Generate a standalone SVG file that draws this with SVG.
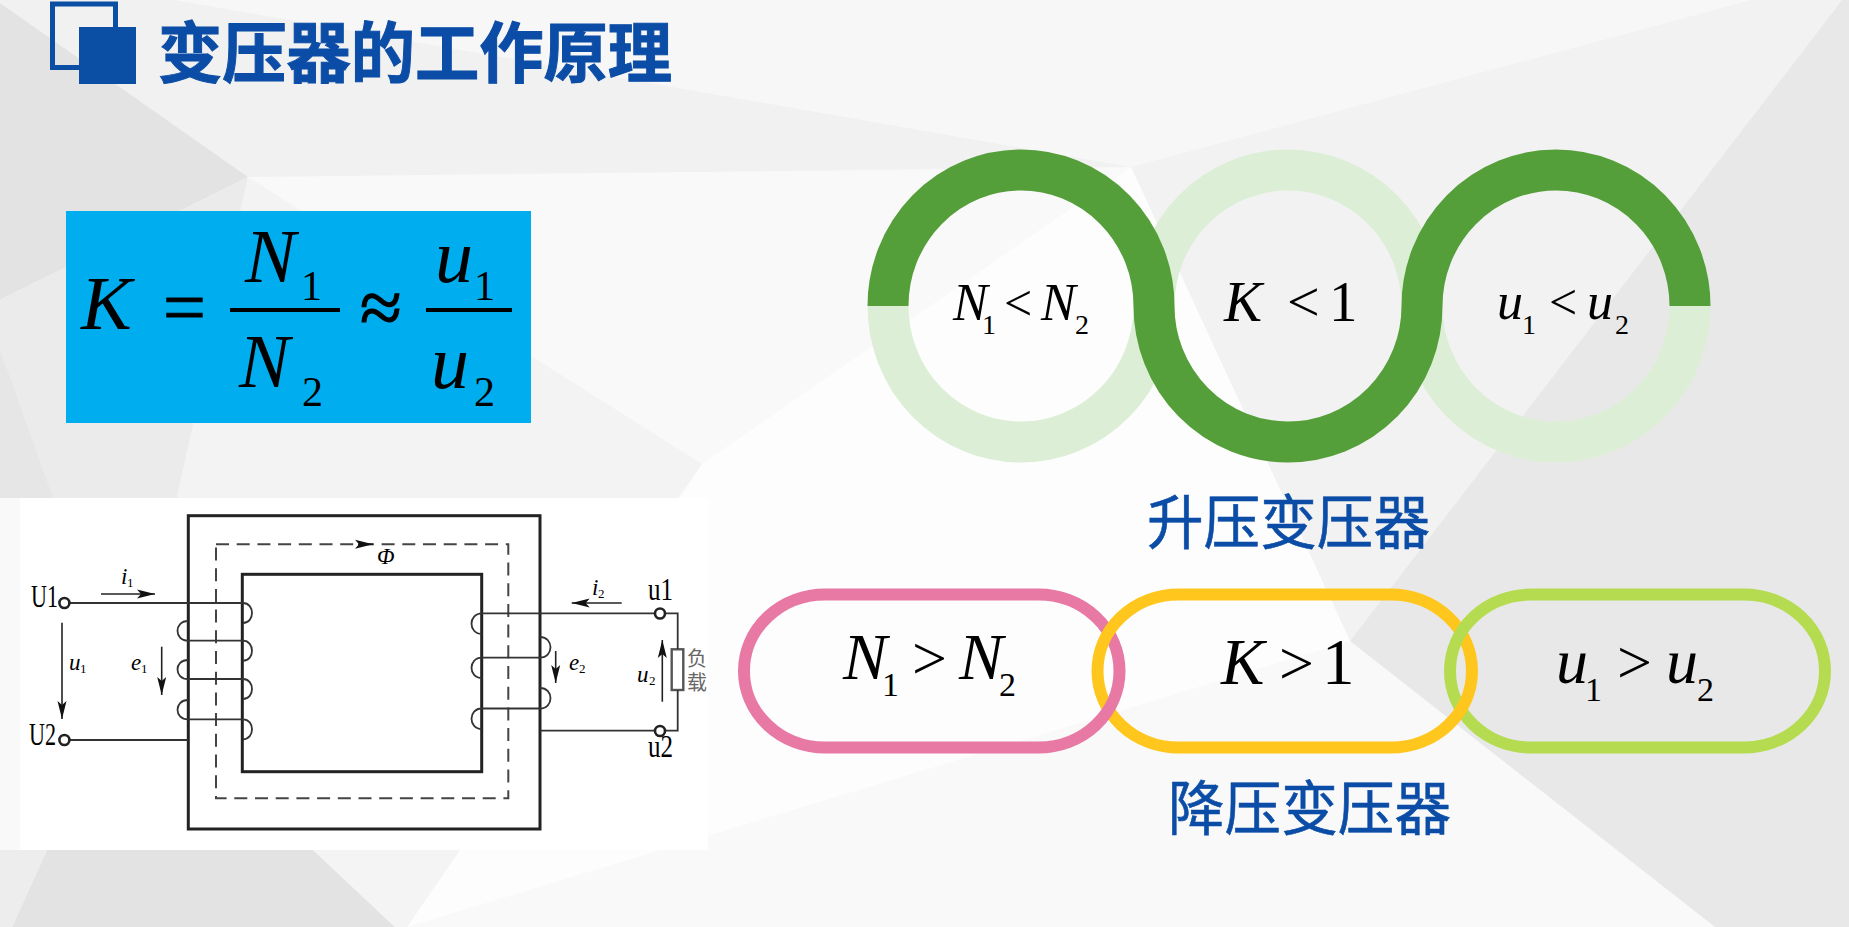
<svg xmlns="http://www.w3.org/2000/svg" width="1849" height="927" viewBox="0 0 1849 927">
<style>
.cjk{font-family:"Noto Sans CJK SC","Noto Sans",sans-serif;fill:#0B4DA6;stroke:#0B4DA6}
.m{font-family:"Liberation Serif","Times New Roman",serif;fill:#000}
.i{font-style:italic}
.wire{fill:none;stroke:#333;stroke-width:1.8}
.arr{fill:none;stroke:#222;stroke-width:1.6;marker-end:url(#ah)}
.core{fill:none;stroke:#222;stroke-width:3}
.term{fill:#fff;stroke:#222;stroke-width:2.6}
.fg{fill:none;stroke-width:41}
.ring{fill:none;stroke-width:12}
</style>
<defs>
<marker id="ah" markerUnits="userSpaceOnUse" markerWidth="20" markerHeight="10" refX="18" refY="5" orient="auto"><path d="M0,0.5 L18,5 L0,9.5 L4,5 Z" fill="#111"/></marker>
</defs>
<g id="background">
<rect width="1849" height="927" fill="#F9F9F9"/>
<polygon points="175,0 1849,0 1131,167" fill="#F7F7F7"/>
<polygon points="0,0 175,0 1131,167 248,177 0,3" fill="#F1F1F1"/>
<polygon points="1131,167 1751,0 1842,0 1350,641" fill="#F2F2F2"/>
<polygon points="1842,0 1849,0 1849,927 1715,927 1350,641" fill="#E8E8E8"/>
<polygon points="1131,167 1350,641 407,927 702,464" fill="#FDFDFD"/>
<polygon points="0,3 248,177 0,300" fill="#E3E3E3"/>
<polygon points="0,300 248,177 177,498 0,498" fill="#EBEBEB"/>
<polygon points="248,177 702,464 678,498 177,498" fill="#F3F3F3"/>
<polygon points="0,350 53,498 0,498" fill="#E6E6E6"/>
<polygon points="47,850 313,850 395,927 12,927" fill="#E3E3E3"/>
<polygon points="0,850 47,850 12,927 0,927" fill="#EDEDED"/>
<polygon points="313,850 460,850 407,927 395,927" fill="#F4F4F4"/>
</g>
<g id="title">
<rect x="52.5" y="4" width="63" height="63.5" fill="none" stroke="#0A4FA3" stroke-width="5"/>
<rect x="79" y="27" width="57" height="57" fill="#0A4FA3"/>
<text class="cjk" x="158" y="77" font-size="66" font-weight="700" stroke-width="1" textLength="514" lengthAdjust="spacingAndGlyphs">变压器的工作原理</text>
</g>
<g id="formula">
<rect x="66" y="211" width="465" height="212" fill="#00AEEF"/>
<text class="m i" x="81" y="329" font-size="76">K</text>
<text class="m" x="163" y="333" font-size="76" stroke="#000" stroke-width="1">=</text>
<text class="m" x="360" y="333" font-size="76" stroke="#000" stroke-width="1.2">≈</text>
<text class="m i" font-size="76"><tspan x="245" y="282">N</tspan><tspan class="m" x="301" y="300" font-size="42" font-style="normal">1</tspan></text>
<rect x="230" y="308" width="110" height="4"/>
<text class="m i" font-size="76"><tspan x="239" y="387">N</tspan><tspan class="m" x="302" y="406" font-size="42" font-style="normal">2</tspan></text>
<text class="m i" font-size="76"><tspan x="435" y="282">u</tspan><tspan class="m" x="474" y="300" font-size="42" font-style="normal">1</tspan></text>
<rect x="426" y="308" width="86" height="4"/>
<text class="m i" font-size="76"><tspan x="431" y="388">u</tspan><tspan class="m" x="474" y="406" font-size="42" font-style="normal">2</tspan></text>
</g>
<g id="transformer">
<rect x="20" y="498" width="688" height="352" fill="#fff"/>
<rect class="core" x="188.3" y="515.7" width="351.7" height="313.3"/>
<rect class="core" x="242.3" y="574.3" width="239.4" height="197.4"/>
<rect x="216" y="544.3" width="292.3" height="254" fill="none" stroke="#444" stroke-width="2" stroke-dasharray="13 7.7"/>
<rect x="671.7" y="649.3" width="11.6" height="40.7" fill="#fff" stroke="#555" stroke-width="2.4"/>
</g>
<g id="connectors">
<path class="wire" d="M70,603H243C255,603 255,623 243,623M188,621C174,621 174,640.7 188,640.7H243C255,640.7 255,660.7 243,660.7M188,660C174,660 174,679 188,679H243C255,679 255,699 243,699M188,700C174,700 174,719.3 188,719.3H243C255,719.3 255,739.3 243,739.3"/>
<path class="wire" d="M70,740H188" stroke-width="2.2"/>
<path class="wire" d="M655,613.3H482C468,613.3 468,634 482,634M540,637C554,637 554,657.7 540,657.7H482C468,657.7 468,678 482,678M540,688C554,688 554,708.5 540,708.5H482C468,708.5 468,729 482,729"/>
<path class="wire" d="M540,730.7H655M665,613.3H677.7V649M677.7,690V730.7H665" stroke="#555"/>
<path class="arr" d="M101,594H155"/>
<path class="arr" d="M62,622.7V719"/>
<path class="arr" d="M161.7,646.7V695"/>
<path class="arr" d="M621.7,603H571.7"/>
<path class="arr" d="M555.7,651V683"/>
<path class="arr" d="M662.3,701.7V640"/>
<path class="arr" d="M358,544.3H373"/>
<circle class="term" cx="64.4" cy="603" r="5"/>
<circle class="term" cx="64.4" cy="740" r="5"/>
<circle class="term" cx="660" cy="613.5" r="5"/>
<circle class="term" cx="660" cy="731" r="5"/>
</g>
<g id="circuit-labels">
<text class="m" x="31" y="607" font-size="32" textLength="27" lengthAdjust="spacingAndGlyphs" fill="#222">U1</text>
<text class="m" x="29" y="745" font-size="32" textLength="27" lengthAdjust="spacingAndGlyphs" fill="#222">U2</text>
<text class="m" x="648" y="600" font-size="31" textLength="25" lengthAdjust="spacingAndGlyphs" fill="#222">u1</text>
<text class="m" x="648" y="757" font-size="31" textLength="25" lengthAdjust="spacingAndGlyphs" fill="#222">u2</text>
<text class="m i" font-size="23"><tspan x="121" y="584">i</tspan><tspan x="127" y="587" font-size="13" font-style="normal">1</tspan></text>
<text class="m i" font-size="23"><tspan x="592" y="595">i</tspan><tspan x="598" y="598" font-size="13" font-style="normal">2</tspan></text>
<text class="m i" font-size="23"><tspan x="69" y="670">u</tspan><tspan x="80" y="673" font-size="13" font-style="normal">1</tspan></text>
<text class="m i" font-size="23"><tspan x="131" y="670">e</tspan><tspan x="141" y="673" font-size="13" font-style="normal">1</tspan></text>
<text class="m i" font-size="23"><tspan x="569" y="670">e</tspan><tspan x="579" y="673" font-size="13" font-style="normal">2</tspan></text>
<text class="m i" font-size="23"><tspan x="637" y="682">u</tspan><tspan x="649" y="685" font-size="13" font-style="normal">2</tspan></text>
<text class="m i" x="377" y="564" font-size="23">Φ</text>
<text x="687" y="666" font-size="20" fill="#666" font-family="'Noto Sans CJK SC',sans-serif">负</text>
<text x="687" y="690" font-size="20" fill="#666" font-family="'Noto Sans CJK SC',sans-serif">载</text>
</g>
<g id="step-up">
<g class="fg" stroke="#DCEFD6">
<path d="M888,306A133,136 0 0 0 1154,306"/>
<path d="M1154,306A134,136 0 0 1 1422,306"/>
<path d="M1422,306A134,136 0 0 0 1690,306"/>
</g>
<path class="fg" stroke="#559F3A" d="M888,306A133,136 0 0 1 1154,306A134,136 0 0 0 1422,306A134,136 0 0 1 1690,306"/>
<text class="m i" font-size="52" fill="#111"><tspan x="953" y="320">N</tspan><tspan x="982" y="334" font-size="28" font-style="normal">1</tspan><tspan x="1004" y="320" font-style="normal" font-size="50">&lt;</tspan><tspan x="1041" y="320">N</tspan><tspan x="1075" y="334" font-size="28" font-style="normal">2</tspan></text>
<text class="m i" font-size="57" fill="#111"><tspan x="1224" y="321">K</tspan><tspan x="1287" y="321" font-style="normal" font-size="58">&lt;</tspan><tspan x="1329" y="321" font-style="normal">1</tspan></text>
<text class="m i" font-size="52" fill="#111"><tspan x="1497" y="319">u</tspan><tspan x="1522" y="334" font-size="28" font-style="normal">1</tspan><tspan x="1549" y="319" font-style="normal" font-size="50">&lt;</tspan><tspan x="1587" y="319">u</tspan><tspan x="1615" y="334" font-size="28" font-style="normal">2</tspan></text>
<text class="cjk" x="1147" y="544" font-size="59" font-weight="400" stroke-width="0.6" textLength="283" lengthAdjust="spacingAndGlyphs">升压变压器</text>
</g>
<g id="step-down">
<g class="ring">
<path stroke="#B5DC50" d="M1450,671A81,76.5 0 0 0 1531,747.5H1744A81,76.5 0 0 0 1825,671"/>
<path stroke="#FFC61E" d="M1097.5,671A81,76.5 0 0 0 1178.5,747.5H1391A81,76.5 0 0 0 1472,671"/>
<path stroke="#E878A4" d="M744,671A81,76.5 0 0 0 825,747.5H1038.5A81,76.5 0 0 0 1119.5,671"/>
<path stroke="#E878A4" d="M744,671A81,76.5 0 0 1 825,594.5H1038.5A81,76.5 0 0 1 1119.5,671"/>
<path stroke="#FFC61E" d="M1097.5,671A81,76.5 0 0 1 1178.5,594.5H1391A81,76.5 0 0 1 1472,671"/>
<path stroke="#B5DC50" d="M1450,671A81,76.5 0 0 1 1531,594.5H1744A81,76.5 0 0 1 1825,671"/>
</g>
<text class="m i" font-size="66" fill="#222"><tspan x="843" y="679">N</tspan><tspan x="882" y="696" font-size="34" font-style="normal">1</tspan><tspan x="912" y="679" font-style="normal" font-size="62">&gt;</tspan><tspan x="959" y="679">N</tspan><tspan x="999" y="696" font-size="34" font-style="normal">2</tspan></text>
<text class="m i" font-size="65" fill="#222"><tspan x="1221" y="684">K</tspan><tspan x="1279" y="684" font-style="normal" font-size="62">&gt;</tspan><tspan x="1322" y="684" font-style="normal">1</tspan></text>
<text class="m i" font-size="64" fill="#222"><tspan x="1556" y="683">u</tspan><tspan x="1585" y="701" font-size="34" font-style="normal">1</tspan><tspan x="1617" y="683" font-style="normal" font-size="62">&gt;</tspan><tspan x="1666" y="683">u</tspan><tspan x="1697" y="701" font-size="34" font-style="normal">2</tspan></text>
<text class="cjk" x="1168" y="830" font-size="59" font-weight="400" stroke-width="0.6" textLength="283" lengthAdjust="spacingAndGlyphs">降压变压器</text>
</g>
</svg>
